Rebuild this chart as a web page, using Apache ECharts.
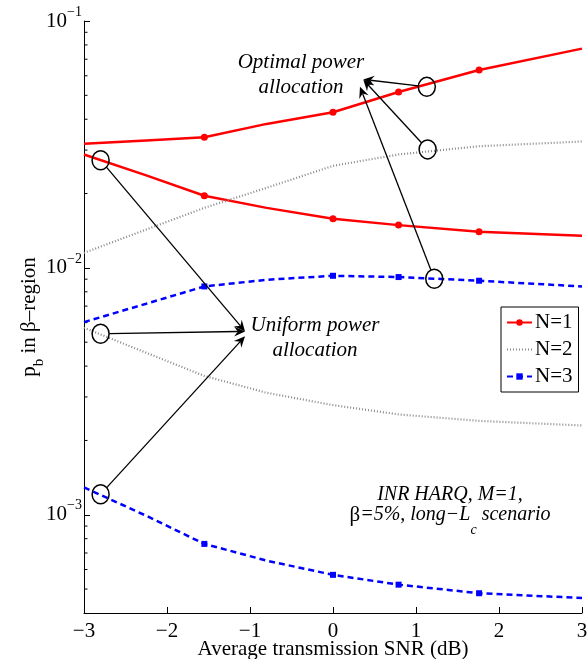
<!DOCTYPE html>
<html>
<head>
<meta charset="utf-8">
<script src="https://cdn.jsdelivr.net/npm/echarts@6/dist/echarts.min.js"></script>
<style>
  html, body { margin: 0; padding: 0; background: #fff; }
  #chart { width: 587px; height: 659px; }
</style>
</head>
<body>
<div id="chart"></div>
<script>
// x samples (dB)
const snrDb = [-3, -2.25, -1.55, -0.8, 0, 0.79, 1.76, 3];
// sample indices that carry a marker
const markerIdx = [2, 4, 5, 6];

// p_b values, upper curve = optimal, lower curve = uniform power allocation
const n1Optimal = [0.0318, 0.0328, 0.0338, 0.0383, 0.0427, 0.0516, 0.0633, 0.0773];
const n1Uniform = [0.0288, 0.0237, 0.0196, 0.0175, 0.0158, 0.0149, 0.0140, 0.0135];
const n2Optimal = [0.0115, 0.0143, 0.0175, 0.0211, 0.0259, 0.0288, 0.0311, 0.0325];
const n2Uniform = [0.00572, 0.00453, 0.00365, 0.00312, 0.00278, 0.00255, 0.00240, 0.00230];
const n3Optimal = [0.00603, 0.00716, 0.00841, 0.00895, 0.00929, 0.00918, 0.00887, 0.00841];
const n3Uniform = [0.00129, 0.000991, 0.000762, 0.000652, 0.000571, 0.000521, 0.000481, 0.000460];

const yMinorTicks = [5e-4, 6e-4, 7e-4, 8e-4, 9e-4,
  2e-3, 3e-3, 4e-3, 5e-3, 6e-3, 7e-3, 8e-3, 9e-3,
  2e-2, 3e-2, 4e-2, 5e-2, 6e-2, 7e-2, 8e-2, 9e-2];

// annotation circles (data coords) and where their arrows point
const optimalCircles = [[1.13, 0.0541], [1.14, 0.0302], [1.22, 0.00904]];
const optimalTips = [[0.365, 0.0580], [0.365, 0.0578], [0.325, 0.0541]];
const uniformCircles = [[-2.8, 0.0273], [-2.8, 0.00541], [-2.8, 0.00121]];
const uniformTips = [[-1.06, 0.00553], [-1.06, 0.00553], [-1.06, 0.00528]];

const serif = '"Liberation Serif", "Times New Roman", serif';
const RED = '#ff0000', BLUE = '#0000ff', GREY = '#8a8a8a';

function toData(vals, symbol) {
  return snrDb.map((x, i) => ({
    value: [x, vals[i]],
    symbol: symbol && markerIdx.includes(i) ? symbol : 'none'
  }));
}

function curve(name, vals, color, dash, symbol, size) {
  return {
    name: name,
    type: 'line',
    data: toData(vals, symbol),
    smooth: false,
    symbol: symbol || 'none',
    symbolSize: size || 0,
    showAllSymbol: true,
    lineStyle: { color: color, width: dash === 'dot' ? 2.2 : 2.5, type: dash === 'dot' ? [1, 2] : dash },
    itemStyle: { color: color },
    emphasis: { disabled: true },
    animation: false
  };
}

const chart = echarts.init(document.getElementById('chart'));

const option = {
  backgroundColor: '#fff',
  animation: false,
  grid: { left: 84, right: 5, top: 21, bottom: 46, outerBoundsMode: 'none', containLabel: false },
  legend: {
    data: ['N=1', { name: 'N=2', itemStyle: { opacity: 0 } }, 'N=3'],
    orient: 'vertical',
    left: 501,
    top: 307,
    itemWidth: 25,
    itemHeight: 8,
    itemGap: 6,
    padding: [5, 6, 5, 5],
    backgroundColor: '#fff',
    borderColor: '#000',
    borderWidth: 1,
    borderRadius: 0,
    selectedMode: false,
    textStyle: { fontFamily: serif, fontSize: 21, color: '#000', lineHeight: 21, padding: [0, 0, 0, -2] }
  },
  xAxis: {
    type: 'value',
    min: -3,
    max: 3,
    interval: 1,
    name: 'Average transmission SNR (dB)',
    nameLocation: 'middle',
    nameGap: 26,
    nameMoveOverlap: false,
    nameTextStyle: { fontFamily: serif, fontSize: 21, color: '#000' },
    axisLine: { onZero: false, lineStyle: { color: '#000', width: 1 } },
    axisTick: { inside: true, length: 6, lineStyle: { color: '#000' } },
    axisLabel: {
      margin: 8,
      fontFamily: serif, fontSize: 21, color: '#000',
      formatter: v => String(v).replace('-', '\u2212')
    },
    splitLine: { show: false }
  },
  yAxis: {
    type: 'log',
    logBase: 10,
    min: 4e-4,
    max: 0.1,
    name: '{p|p}{b|b}{p| in \u03b2\u2013region}',
    nameLocation: 'middle',
    nameRotate: 90,
    nameGap: 43,
    nameMoveOverlap: false,
    nameTextStyle: {
      rich: {
        p: { fontFamily: serif, fontSize: 21, color: '#000', lineHeight: 22, verticalAlign: 'top' },
        b: { fontFamily: serif, fontSize: 15, color: '#000', lineHeight: 15, padding: [13, 0, 0, 0], verticalAlign: 'top' }
      }
    },
    axisLine: { show: true, onZero: false, lineStyle: { color: '#000', width: 1 } },
    axisTick: { inside: true, length: 6, lineStyle: { color: '#000' } },
    axisLabel: {
      margin: 2,
      formatter: function (v) {
        const e = Math.log10(v);
        if (Math.abs(e - Math.round(e)) > 1e-6) return '';
        return '{b|10}{s|\u2212' + (-Math.round(e)) + '}';
      },
      rich: {
        b: { fontFamily: serif, fontSize: 21, color: '#000', lineHeight: 32 },
        s: { fontFamily: serif, fontSize: 14, color: '#000', lineHeight: 14, verticalAlign: 'top' }
      }
    },
    splitLine: { show: false },
    minorTick: { show: false }
  },
  series: [
    curve('N=1', n1Optimal, RED, 'solid', 'circle', 7),
    curve('N=1', n1Uniform, RED, 'solid', 'circle', 7),
    curve('N=2', n2Optimal, GREY, 'dot'),
    curve('N=2', n2Uniform, GREY, 'dot'),
    curve('N=3', n3Optimal, BLUE, [6, 4], 'rect', 6),
    curve('N=3', n3Uniform, BLUE, [6, 4], 'rect', 6),
    {
      type: 'custom',
      silent: true,
      clip: false,
      data: yMinorTicks.map(v => [-3, v]),
      encode: { x: 0, y: 1 },
      renderItem: function (params, api) {
        const pt = api.coord([api.value(0), api.value(1)]);
        return {
          type: 'line',
          shape: { x1: pt[0], y1: pt[1], x2: pt[0] + 3.5, y2: pt[1] },
          style: { stroke: '#000', lineWidth: 1 }
        };
      }
    }
  ]
};

chart.setOption(option);

// circles + arrows, placed through the chart's own coordinate system
const RX = 8.5, RY = 9.5;
function toPx(p) { return chart.convertToPixel({ xAxisIndex: 0, yAxisIndex: 0 }, p); }

function arrowGraphics(c, tip) {
  const dx = tip[0] - c[0], dy = tip[1] - c[1];
  const len = Math.hypot(dx, dy);
  const ux = dx / len, uy = dy / len;
  const t = 1 / Math.sqrt((ux / RX) * (ux / RX) + (uy / RY) * (uy / RY));
  const start = [c[0] + ux * t, c[1] + uy * t];
  const headLen = 11, headW = 5;
  const base = [tip[0] - ux * headLen, tip[1] - uy * headLen];
  const notch = [tip[0] - ux * headLen * 0.65, tip[1] - uy * headLen * 0.65];
  const nx = -uy, ny = ux;
  return [
    { type: 'line', silent: true, z: 100,
      shape: { x1: start[0], y1: start[1], x2: notch[0], y2: notch[1] },
      style: { stroke: '#000', lineWidth: 1.3 } },
    { type: 'polygon', silent: true, z: 100,
      shape: { points: [tip, [base[0] + nx * headW, base[1] + ny * headW], notch, [base[0] - nx * headW, base[1] - ny * headW]] },
      style: { fill: '#000' } }
  ];
}

function ellipse(c) {
  return { type: 'ellipse', silent: true, z: 100,
    shape: { cx: c[0], cy: c[1], rx: RX, ry: RY },
    style: { fill: 'none', stroke: '#000', lineWidth: 1.5 } };
}

const graphics = [];
[[optimalCircles, optimalTips], [uniformCircles, uniformTips]].forEach(([circles, tips]) => {
  circles.forEach((c, i) => {
    const cp = toPx(c), tp = toPx(tips[i]);
    graphics.push(ellipse(cp));
    arrowGraphics(cp, tp).forEach(g => graphics.push(g));
  });
});

const italic = { fontFamily: serif, fontSize: 21, fontStyle: 'italic', fill: '#000' };
graphics.push({
  type: 'text', silent: true, z: 100, x: 301, y: 75,
  style: Object.assign({ text: 'Optimal power\nallocation', align: 'center', verticalAlign: 'middle', lineHeight: 25 }, italic)
});
graphics.push({
  type: 'text', silent: true, z: 100, x: 315, y: 338,
  style: Object.assign({ text: 'Uniform power\nallocation', align: 'center', verticalAlign: 'middle', lineHeight: 25 }, italic)
});
graphics.push({
  type: 'text', silent: true, z: 100, x: 450, y: 495,
  style: Object.assign({ text: 'INR HARQ, M=1,', align: 'center', verticalAlign: 'middle' }, italic, { fontSize: 20 })
});
graphics.push({
  type: 'text', silent: true, z: 100, x: 450, y: 505,
  style: {
    text: '{u|\u03b2}{i|=5%, long\u2212L}{c|c}{i| scenario}',
    align: 'center',
    verticalAlign: 'top',
    rich: {
      u: { fontFamily: serif, fontSize: 21, fill: '#000', lineHeight: 20, verticalAlign: 'top' },
      i: { fontFamily: serif, fontSize: 20, fontStyle: 'italic', fill: '#000', lineHeight: 20, verticalAlign: 'top' },
      c: { fontFamily: serif, fontSize: 14, fontStyle: 'italic', fill: '#000', lineHeight: 14, padding: [18, 0, 0, 0], verticalAlign: 'top' }
    }
  }
});

chart.setOption({ graphic: graphics });
</script>
</body>
</html>
